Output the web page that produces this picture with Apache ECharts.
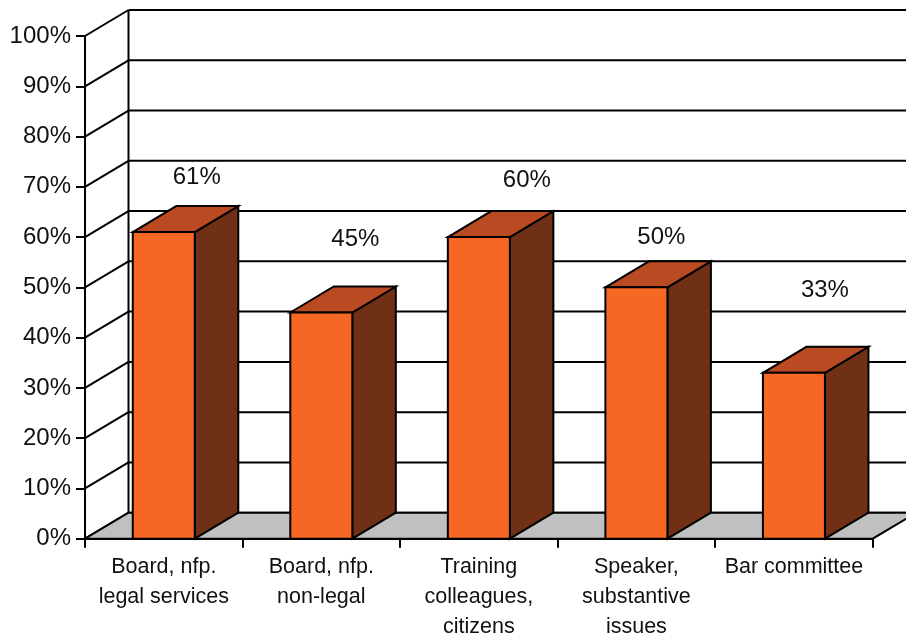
<!DOCTYPE html>
<html>
<head>
<meta charset="utf-8">
<script src="https://cdn.jsdelivr.net/npm/echarts@6/dist/echarts.min.js"></script>
<style>
  html, body { margin: 0; padding: 0; background: #fff; }
  #chart { width: 906px; height: 634px; }
</style>
</head>
<body>
<div id="chart"></div>
<script>
const categories = [
  'Board, nfp.\nlegal services',
  'Board, nfp.\nnon-legal',
  'Training\ncolleagues,\ncitizens',
  'Speaker,\nsubstantive\nissues',
  'Bar committee'
];
const shares = [61, 45, 60, 50, 33];
const yTicks = [0, 10, 20, 30, 40, 50, 60, 70, 80, 90, 100];

// fake 3d: how far the back wall sits from the front plane, in px
const DX = 43.5, DY = -26;
const BAR_RATIO = 62 / 157.5;
// the value labels were placed by hand in the original, so nudge them one by one
const labelNudge = [[33, -55], [34, -73], [48, -57], [25, -50], [31, -82]];
const FONT = '"Liberation Sans", Arial, sans-serif';
const LINE = { stroke: '#000', lineWidth: 2 };

const chart = echarts.init(document.getElementById('chart'), null, { renderer: 'canvas' });

function poly(points, fill) {
  return { type: 'polygon', shape: { points }, style: Object.assign({ fill }, LINE) };
}

function renderWall(params, api) {
  const cs = params.coordSys;
  const p = api.coord([0, api.value(1)]);
  const x0 = cs.x, x1 = cs.x + cs.width + DX;
  const y = p[1] + DY;
  return {
    type: 'group',
    children: [
      { type: 'line', shape: { x1: x0, y1: p[1], x2: x0 + DX, y2: y }, style: LINE },
      { type: 'line', shape: { x1: x0 + DX, y1: y, x2: x1, y2: y }, style: LINE }
    ]
  };
}

function renderFloor(params, api) {
  const cs = params.coordSys;
  const y = api.coord([0, 0])[1];
  const l = cs.x, r = cs.x + cs.width;
  const top = api.coord([0, yTicks[yTicks.length - 1]])[1];
  return {
    type: 'group',
    children: [
      poly([[l, y], [r, y], [r + DX, y + DY], [l + DX, y + DY]], '#c0c0c0'),
      { type: 'line', shape: { x1: l + DX, y1: top + DY, x2: l + DX, y2: y + DY }, style: LINE }
    ]
  };
}

function renderBar(params, api) {
  const i = api.value(0);
  const top = api.coord([i, api.value(1)]);
  const base = api.coord([i, 0]);
  const w = api.size([1, 0])[0] * BAR_RATIO;
  const l = top[0] - w / 2, r = top[0] + w / 2;
  return {
    type: 'group',
    children: [
      poly([[r, top[1]], [r + DX, top[1] + DY], [r + DX, base[1] + DY], [r, base[1]]], '#703015'),
      poly([[l, top[1]], [l + DX, top[1] + DY], [r + DX, top[1] + DY], [r, top[1]]], '#b94a22'),
      poly([[l, top[1]], [r, top[1]], [r, base[1]], [l, base[1]]], '#f56722')
    ]
  };
}

function renderLabel(params, api) {
  const i = api.value(0);
  const p = api.coord([i, api.value(1)]);
  return {
    type: 'text',
    style: {
      x: p[0] + labelNudge[i][0],
      y: p[1] + labelNudge[i][1],
      text: api.value(1) + '%',
      fill: '#111',
      font: '24px ' + FONT,
      align: 'center',
      verticalAlign: 'middle'
    }
  };
}

const barData = shares.map((v, i) => [i, v]);

chart.setOption({
  animation: false,
  backgroundColor: '#fff',
  grid: { left: 85, right: 33.3, top: 36, bottom: 95.3, containLabel: false, outerBoundsMode: 'none' },
  xAxis: {
    type: 'category',
    data: categories,
    boundaryGap: true,
    axisLine: { lineStyle: { color: '#000', width: 2 } },
    axisTick: { show: true, length: 9, lineStyle: { color: '#000', width: 2 } },
    axisLabel: { interval: 0, color: '#111', fontFamily: FONT, fontSize: 21.5, lineHeight: 30, margin: 13 }
  },
  yAxis: {
    type: 'value',
    min: 0,
    max: 100,
    interval: 10,
    axisLine: { show: true, lineStyle: { color: '#000', width: 2 } },
    axisTick: { show: true, length: 9, lineStyle: { color: '#000', width: 2 } },
    axisLabel: { formatter: '{value}%', color: '#111', fontFamily: FONT, fontSize: 24, margin: 14 },
    splitLine: { show: false }
  },
  series: [
    { type: 'custom', z: 1, renderItem: renderWall, data: yTicks.map(v => [0, v]) },
    { type: 'custom', z: 2, renderItem: renderFloor, data: [[0, 0]] },
    { type: 'custom', z: 3, renderItem: renderBar, data: barData },
    { type: 'custom', z: 4, renderItem: renderLabel, data: barData }
  ]
});
</script>
</body>
</html>
